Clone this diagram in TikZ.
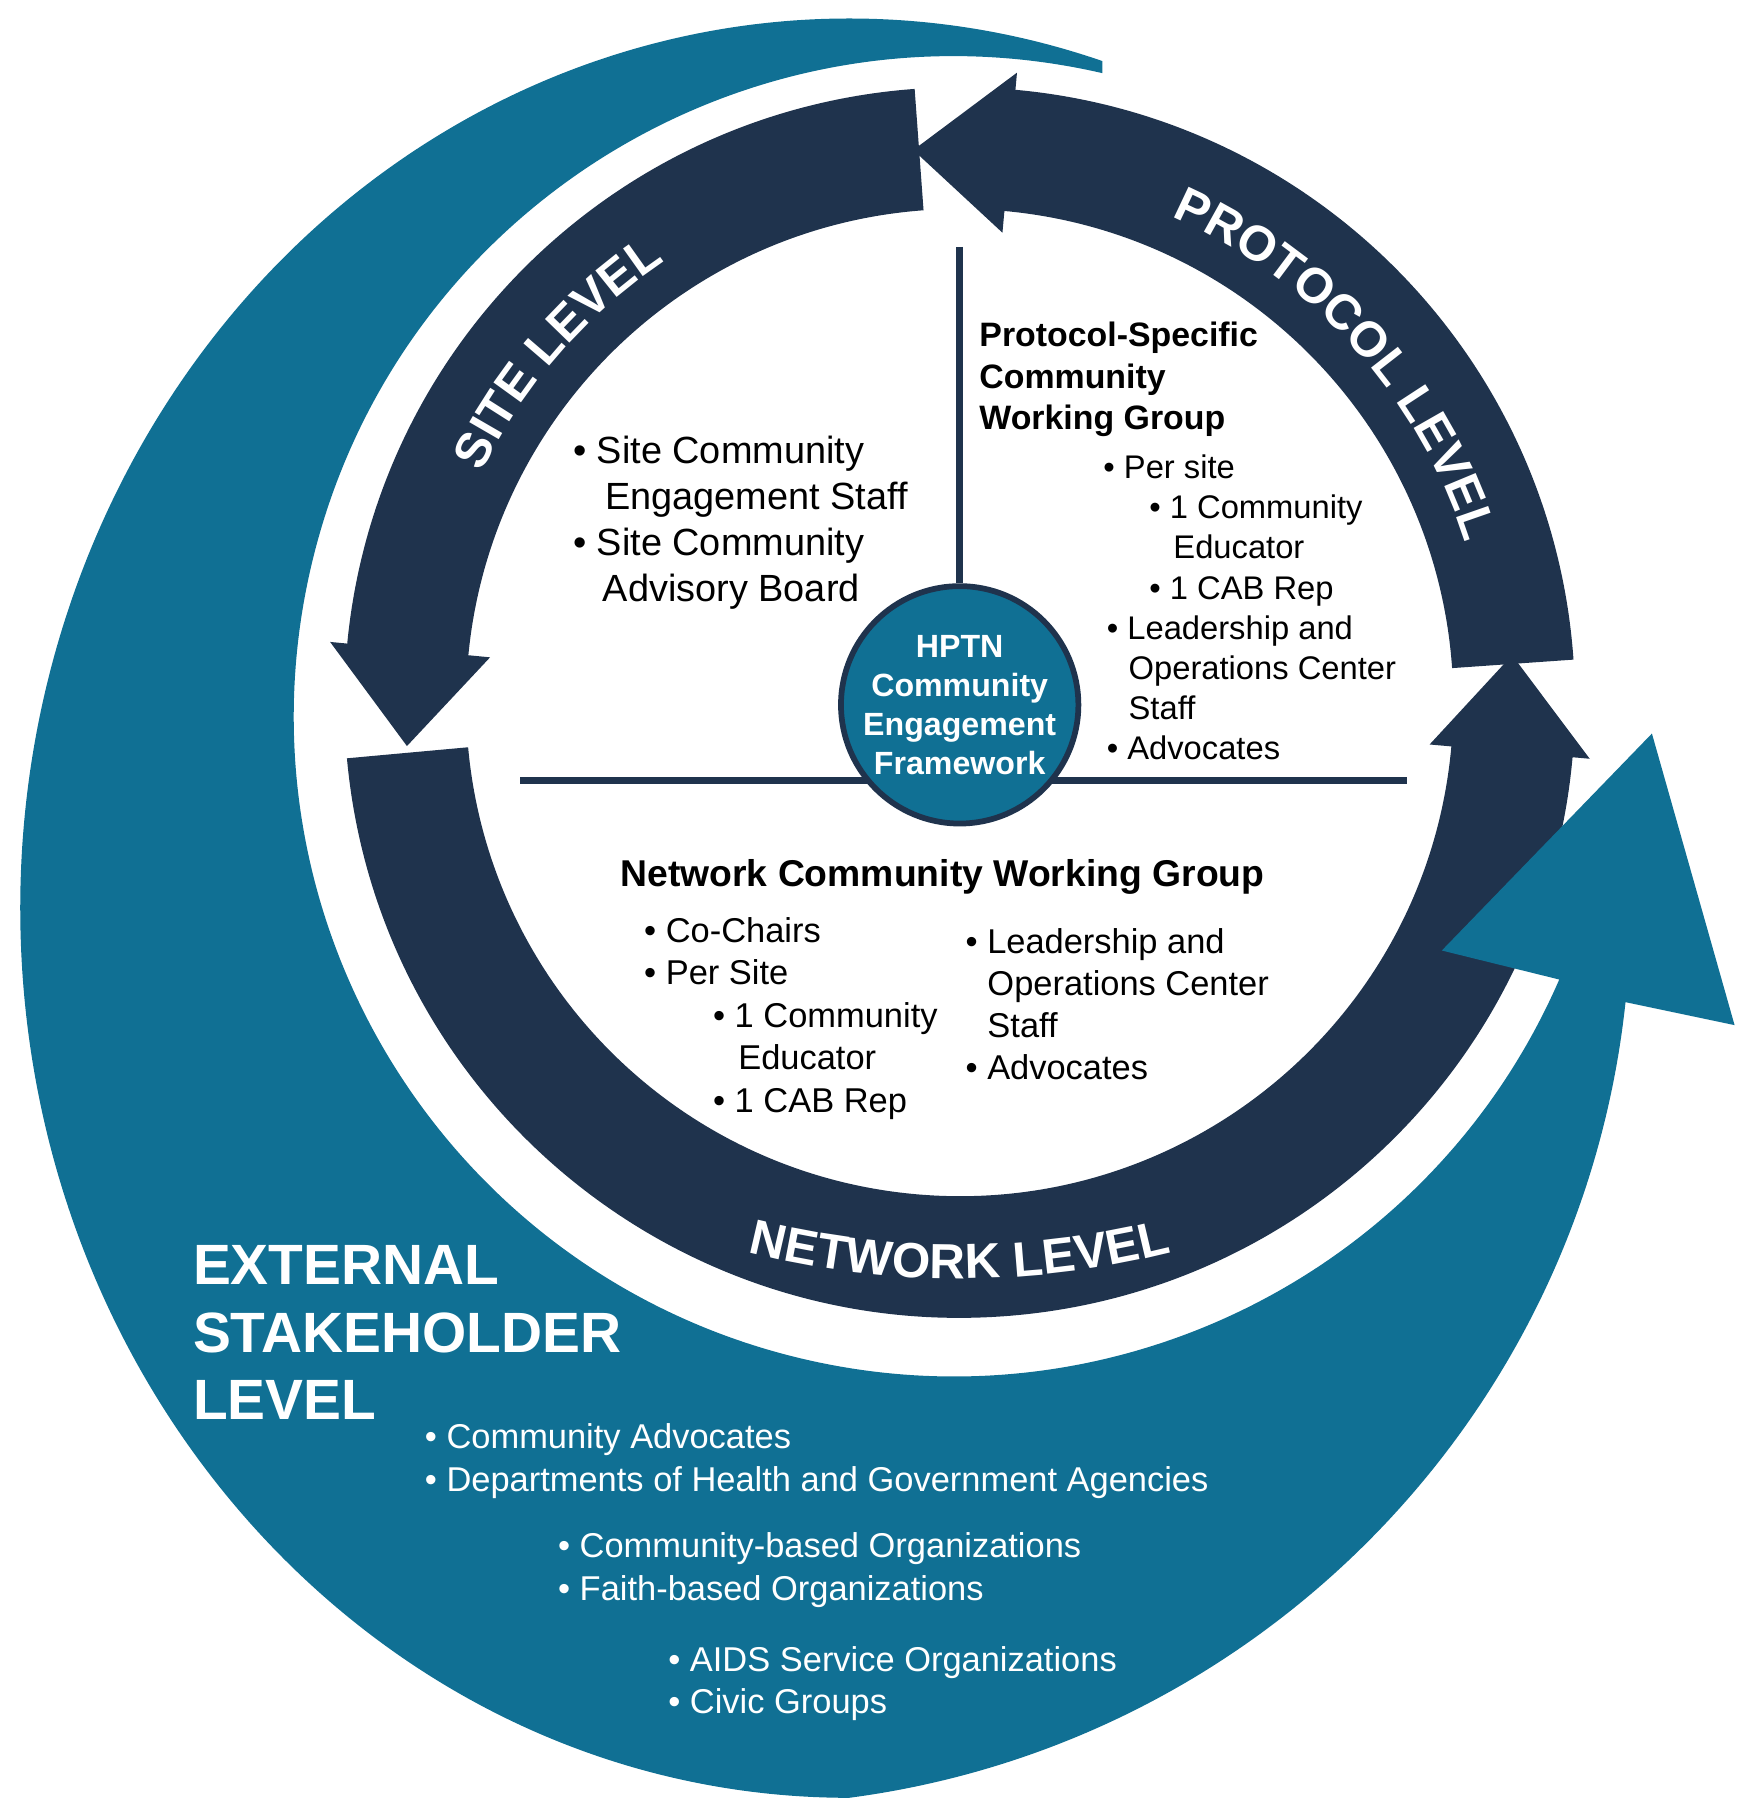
\documentclass[tikz,border=0pt]{standalone}
\usepackage{fontspec}
\setmainfont{Liberation Sans}
\usetikzlibrary{decorations.text}
\definecolor{navy}{RGB}{31,51,77}
\definecolor{hptnteal}{RGB}{16,112,148}
\newcommand{\lvlfont}{\bfseries\fontsize{43}{43}\selectfont}

\begin{document}
\begin{tikzpicture}[x=1pt, y=1pt,
		band/.style={fill=navy},   %dark ring
		swoosh/.style={fill=hptnteal},
		divider/.style={draw=navy, line width=6pt},
		hub/.style={circle, fill=hptnteal, draw=navy, line width=5pt, minimum size=205pt, inner sep=0pt,
			text=white, align=center, font=\bfseries\fontsize{28}{34}\selectfont},
		body/.style={align=left, inner sep=0pt, anchor=north west},
		lvl/.style={decorate, decoration={text along path, text={|\lvlfont|#1}, text align=center, text color=white}}]
		\useasboundingbox (-836,-956) rectangle (685,612);
		%Ring aus drei Pfeilen
		\foreach \a/\b [evaluate=\b as \t using \b+10] in {94.2/174.5, 185.2/354.9, 4/84.8}
			\fill[band] (\a:536) arc[start angle=\a, end angle=\b, radius=536] -- (\b:551) -- (\t:483)
				-- (\b:411) -- (\b:430) arc[start angle=\b, end angle=\a, radius=430] -- cycle;
		% level labels
		\path[lvl=SITE LEVEL] (179:462) arc[start angle=179, end angle=99, radius=462];
		\path[lvl=PROTOCOL LEVEL] (82:462) arc[start angle=82, end angle=2, radius=462];
		\path[lvl=NETWORK LEVEL] ([shift={(0,248)}]245:750) arc[start angle=245, end angle=295, radius=750];
		% external swoosh with arrow head
		\fill[swoosh] ([shift={(-5,-12)}]77:575) arc[start angle=77, end angle=336.5, radius=575]
			-- (420,-216) -- (603,-27) -- (675,-281) -- (580,-261)
			arc[start angle=-6.1, end angle=-82.5, radius=783]
			arc[start angle=270, end angle=72.2, x radius=722, y radius=775] -- cycle;
		% dividers and hub
		\coordinate (vtop) at (0,397);
		\coordinate (hleft) at (-383,-68);
		\coordinate (hright) at (390,-68);
		\draw[divider] (hleft) -- (hright);
		\node[hub] (hub) at (0,-2) {HPTN\\Community\\Engagement\\Framework};
		\draw[divider] (vtop) -- (hub.north);
		% site level
		\node[body, font=\fontsize{33}{40}\selectfont] (sitelist) at (-337,232)
			{\textbullet\ Site Community\\\hspace*{28pt}Engagement Staff\\\textbullet\ Site Community\\\hspace*{26pt}Advisory Board};
		% protocol level
		\node[body, font=\bfseries\fontsize{29.5}{36.5}\selectfont] (protohead) at (17,332)
			{Protocol-Specific\\Community\\Working Group};
		\node[body, font=\fontsize{28.5}{35}\selectfont] (protolist) at (125,216)
			{\textbullet\ Per site\\\hspace*{40pt}\textbullet\ 1 Community\\\hspace*{61pt}Educator\\
			\hspace*{40pt}\textbullet\ 1 CAB Rep\\\hspace*{3pt}\textbullet\ Leadership and\\
			\hspace*{22pt}Operations Center\\\hspace*{22pt}Staff\\\hspace*{3pt}\textbullet\ Advocates};
		% network level
		\node[anchor=base, inner sep=0pt, font=\bfseries\fontsize{32.5}{38}\selectfont] (nethead) at (-15,-160)
			{Network Community Working Group};
		\node[body, font=\fontsize{30}{37}\selectfont] (netleft) at (-275,-187)
			{\textbullet\ Co-Chairs\\\textbullet\ Per Site\\\hspace*{60pt}\textbullet\ 1 Community\\
			\hspace*{82pt}Educator\\\hspace*{60pt}\textbullet\ 1 CAB Rep};
		\node[body, font=\fontsize{30}{36.5}\selectfont] (netright) at (5,-197)
			{\textbullet\ Leadership and\\\hspace*{19pt}Operations Center\\\hspace*{19pt}Staff\\\textbullet\ Advocates};
		% external stakeholder level
		\node[body, text=white, font=\bfseries\fontsize{49.5}{58.5}\selectfont] (exthead) at (-668,-473)
			{EXTERNAL\\STAKEHOLDER\\LEVEL};
		\node[body, text=white, font=\fontsize{30}{37}\selectfont] (extone) at (-466,-628)
			{\textbullet\ Community Advocates\\\textbullet\ Departments of Health and Government Agencies};
		\node[body, text=white, font=\fontsize{30}{37}\selectfont] (exttwo) at (-350,-723)
			{\textbullet\ Community-based Organizations\\\textbullet\ Faith-based Organizations};
		\node[body, text=white, font=\fontsize{30}{37}\selectfont] (extthree) at (-254,-822)
			{\textbullet\ AIDS Service Organizations\\\textbullet\ Civic Groups};
	\end{tikzpicture}
\end{document}
